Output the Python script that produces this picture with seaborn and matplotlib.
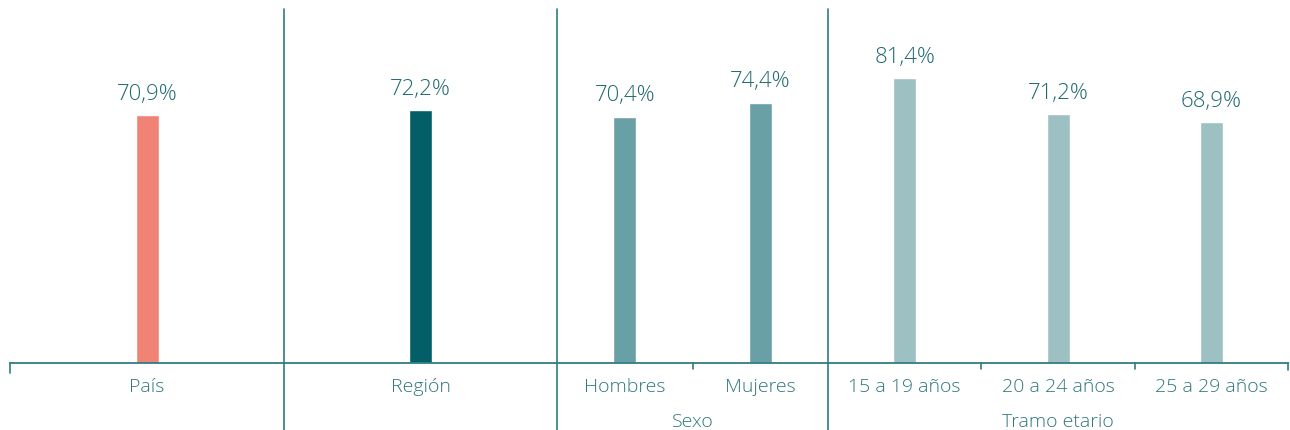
import matplotlib
matplotlib.use("Agg")
import matplotlib.pyplot as plt
import seaborn as sns
import pandas as pd

# datos
grupos = ["", "", "Sexo", "Tramo etario"]
categorias = [["País"], ["Región"], ["Hombres", "Mujeres"],
              ["15 a 19 años", "20 a 24 años", "25 a 29 años"]]
valores = [[70.9], [72.2], [70.4, 74.4], [81.4, 71.2, 68.9]]
colores = ["#F08373", "#045E67", "#68A0A5", "#9DC0C3"]

sns.set_theme(style="white")
plt.rcParams["font.family"] = ["Open Sans", "DejaVu Sans"]
plt.rcParams["font.weight"] = "light"

txt_color = "#1F6A70"
lab_color = "#2F777D"
line_color = "#2F7D81"

W, H = 1290, 431
fig = plt.figure(figsize=(W / 100, H / 100), dpi=100)
# anchos de cada grupo en pixeles
anchos = [274, 273, 271, 460]
gs = fig.add_gridspec(1, 4, width_ratios=anchos, wspace=0,
                      left=10 / W, right=(10 + sum(anchos)) / W,
                      bottom=(H - 364) / H, top=(H - 10) / H)

ymax = 354 / 3.5
for i in range(4):
    ax = fig.add_subplot(gs[0, i])
    df = pd.DataFrame({"cat": categorias[i], "val": valores[i]})
    n = len(categorias[i])
    cat_w = anchos[i] / n
    sns.barplot(data=df, x="cat", y="val", color=colores[i], ax=ax,
                width=23 / cat_w, saturation=1)
    ax.set_xlim(-0.5, n - 0.5)
    ax.set_ylim(0, ymax)
    for s in ["top", "right", "left"]:
        ax.spines[s].set_visible(False)
    ax.spines["bottom"].set_color(line_color)
    ax.spines["bottom"].set_linewidth(1.3)
    ax.set_yticks([])
    ax.set_xlabel("")
    ax.set_ylabel("")
    ax.tick_params(axis="x", length=0, pad=10, labelsize=14,
                   labelcolor=lab_color)
    for p, v in zip(ax.patches, valores[i]):
        ax.annotate(f"{v:.1f}".replace(".", ",") + "%",
                    (p.get_x() + p.get_width() / 2, p.get_height()),
                    xytext=(0, 8), textcoords="offset points",
                    ha="center", va="bottom", fontsize=16,
                    color=txt_color)
    if grupos[i]:
        ax.text(0.5, -0.165, grupos[i], transform=ax.transAxes,
                ha="center", va="center", fontsize=14,
                color=lab_color)
    # separadores de grupo
    if i > 0:
        ax.plot([0, 0], [-0.19, 1], transform=ax.transAxes, clip_on=False,
                color=line_color, lw=1.2)
    else:
        ax.plot([0, 0], [-0.028, 0], transform=ax.transAxes, clip_on=False,
                color=line_color, lw=1.2)
    if i == 3:
        ax.plot([1, 1], [-0.02, 0], transform=ax.transAxes, clip_on=False,
                color=line_color, lw=1.2)
    # marcas pequeñas entre categorias
    for k in range(1, n):
        ax.plot([k / n, k / n], [-0.017, 0], transform=ax.transAxes,
                clip_on=False, color=line_color, lw=1.2)

fig.savefig("out.png", dpi=100, facecolor="white")
